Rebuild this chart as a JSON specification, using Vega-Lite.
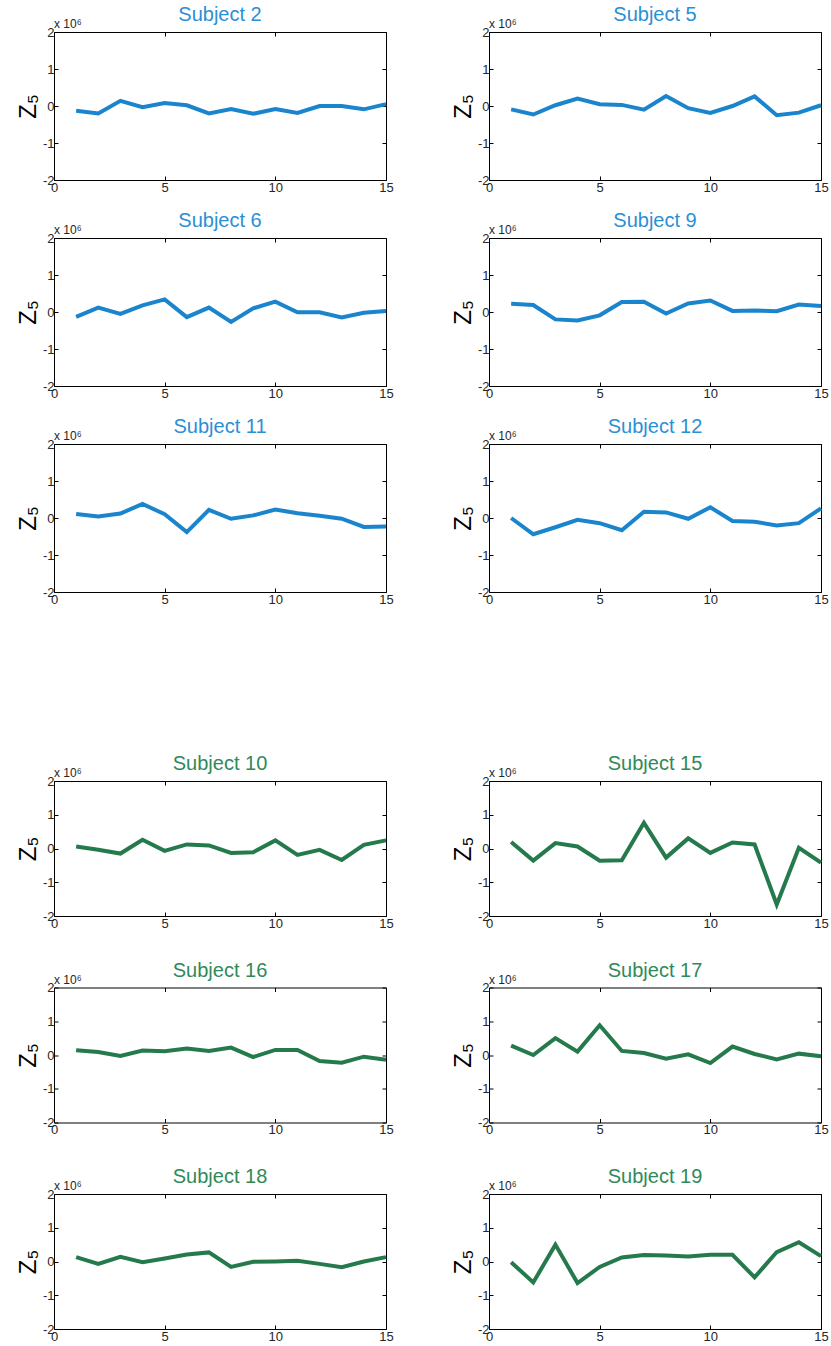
{
  "$schema": "https://vega.github.io/schema/vega-lite/v6.json",
  "padding": {"left": 15, "top": 4, "right": 5, "bottom": 0},
  "background": "white",
  "config": {
    "font": "Liberation Sans",
    "view": {"stroke": "#000000", "strokeWidth": 1},
    "axis": {"grid": false, "domain": false, "tickColor": "#000000", "tickSize": -4, "labelFontSize": 13, "labelColor": "#262626", "labelPadding": 4, "labelFont": "Liberation Sans", "labelFlush": false, "labelOverlap": false},
    "axisX": {"labelPadding": 5},
    "header": {"labelFontSize": 20, "labelFont": "Liberation Sans", "title": null},
    "concat": {"spacing": 146}
  },
  "datasets": {
    "z": [
      {"subject": "Subject 2", "g": "A", "x": 1, "z": -0.13}, {"subject": "Subject 2", "g": "A", "x": 2, "z": -0.2}, {"subject": "Subject 2", "g": "A", "x": 3, "z": 0.14}, {"subject": "Subject 2", "g": "A", "x": 4, "z": -0.03}, {"subject": "Subject 2", "g": "A", "x": 5, "z": 0.08}, {"subject": "Subject 2", "g": "A", "x": 6, "z": 0.02}, {"subject": "Subject 2", "g": "A", "x": 7, "z": -0.2}, {"subject": "Subject 2", "g": "A", "x": 8, "z": -0.08}, {"subject": "Subject 2", "g": "A", "x": 9, "z": -0.21}, {"subject": "Subject 2", "g": "A", "x": 10, "z": -0.08}, {"subject": "Subject 2", "g": "A", "x": 11, "z": -0.19}, {"subject": "Subject 2", "g": "A", "x": 12, "z": 0.0}, {"subject": "Subject 2", "g": "A", "x": 13, "z": 0.0}, {"subject": "Subject 2", "g": "A", "x": 14, "z": -0.09}, {"subject": "Subject 2", "g": "A", "x": 15, "z": 0.05},
      {"subject": "Subject 5", "g": "A", "x": 1, "z": -0.09}, {"subject": "Subject 5", "g": "A", "x": 2, "z": -0.23}, {"subject": "Subject 5", "g": "A", "x": 3, "z": 0.02}, {"subject": "Subject 5", "g": "A", "x": 4, "z": 0.2}, {"subject": "Subject 5", "g": "A", "x": 5, "z": 0.05}, {"subject": "Subject 5", "g": "A", "x": 6, "z": 0.03}, {"subject": "Subject 5", "g": "A", "x": 7, "z": -0.1}, {"subject": "Subject 5", "g": "A", "x": 8, "z": 0.27}, {"subject": "Subject 5", "g": "A", "x": 9, "z": -0.06}, {"subject": "Subject 5", "g": "A", "x": 10, "z": -0.19}, {"subject": "Subject 5", "g": "A", "x": 11, "z": 0.0}, {"subject": "Subject 5", "g": "A", "x": 12, "z": 0.26}, {"subject": "Subject 5", "g": "A", "x": 13, "z": -0.25}, {"subject": "Subject 5", "g": "A", "x": 14, "z": -0.18}, {"subject": "Subject 5", "g": "A", "x": 15, "z": 0.02},
      {"subject": "Subject 6", "g": "A", "x": 1, "z": -0.13}, {"subject": "Subject 6", "g": "A", "x": 2, "z": 0.12}, {"subject": "Subject 6", "g": "A", "x": 3, "z": -0.05}, {"subject": "Subject 6", "g": "A", "x": 4, "z": 0.18}, {"subject": "Subject 6", "g": "A", "x": 5, "z": 0.34}, {"subject": "Subject 6", "g": "A", "x": 6, "z": -0.14}, {"subject": "Subject 6", "g": "A", "x": 7, "z": 0.12}, {"subject": "Subject 6", "g": "A", "x": 8, "z": -0.27}, {"subject": "Subject 6", "g": "A", "x": 9, "z": 0.1}, {"subject": "Subject 6", "g": "A", "x": 10, "z": 0.28}, {"subject": "Subject 6", "g": "A", "x": 11, "z": -0.01}, {"subject": "Subject 6", "g": "A", "x": 12, "z": -0.01}, {"subject": "Subject 6", "g": "A", "x": 13, "z": -0.15}, {"subject": "Subject 6", "g": "A", "x": 14, "z": -0.02}, {"subject": "Subject 6", "g": "A", "x": 15, "z": 0.03},
      {"subject": "Subject 9", "g": "A", "x": 1, "z": 0.22}, {"subject": "Subject 9", "g": "A", "x": 2, "z": 0.19}, {"subject": "Subject 9", "g": "A", "x": 3, "z": -0.2}, {"subject": "Subject 9", "g": "A", "x": 4, "z": -0.23}, {"subject": "Subject 9", "g": "A", "x": 5, "z": -0.09}, {"subject": "Subject 9", "g": "A", "x": 6, "z": 0.27}, {"subject": "Subject 9", "g": "A", "x": 7, "z": 0.28}, {"subject": "Subject 9", "g": "A", "x": 8, "z": -0.04}, {"subject": "Subject 9", "g": "A", "x": 9, "z": 0.23}, {"subject": "Subject 9", "g": "A", "x": 10, "z": 0.31}, {"subject": "Subject 9", "g": "A", "x": 11, "z": 0.03}, {"subject": "Subject 9", "g": "A", "x": 12, "z": 0.04}, {"subject": "Subject 9", "g": "A", "x": 13, "z": 0.02}, {"subject": "Subject 9", "g": "A", "x": 14, "z": 0.2}, {"subject": "Subject 9", "g": "A", "x": 15, "z": 0.16},
      {"subject": "Subject 11", "g": "A", "x": 1, "z": 0.11}, {"subject": "Subject 11", "g": "A", "x": 2, "z": 0.04}, {"subject": "Subject 11", "g": "A", "x": 3, "z": 0.12}, {"subject": "Subject 11", "g": "A", "x": 4, "z": 0.38}, {"subject": "Subject 11", "g": "A", "x": 5, "z": 0.1}, {"subject": "Subject 11", "g": "A", "x": 6, "z": -0.38}, {"subject": "Subject 11", "g": "A", "x": 7, "z": 0.22}, {"subject": "Subject 11", "g": "A", "x": 8, "z": -0.02}, {"subject": "Subject 11", "g": "A", "x": 9, "z": 0.07}, {"subject": "Subject 11", "g": "A", "x": 10, "z": 0.23}, {"subject": "Subject 11", "g": "A", "x": 11, "z": 0.13}, {"subject": "Subject 11", "g": "A", "x": 12, "z": 0.06}, {"subject": "Subject 11", "g": "A", "x": 13, "z": -0.02}, {"subject": "Subject 11", "g": "A", "x": 14, "z": -0.24}, {"subject": "Subject 11", "g": "A", "x": 15, "z": -0.23},
      {"subject": "Subject 12", "g": "A", "x": 1, "z": 0.0}, {"subject": "Subject 12", "g": "A", "x": 2, "z": -0.44}, {"subject": "Subject 12", "g": "A", "x": 3, "z": -0.25}, {"subject": "Subject 12", "g": "A", "x": 4, "z": -0.05}, {"subject": "Subject 12", "g": "A", "x": 5, "z": -0.14}, {"subject": "Subject 12", "g": "A", "x": 6, "z": -0.33}, {"subject": "Subject 12", "g": "A", "x": 7, "z": 0.17}, {"subject": "Subject 12", "g": "A", "x": 8, "z": 0.15}, {"subject": "Subject 12", "g": "A", "x": 9, "z": -0.02}, {"subject": "Subject 12", "g": "A", "x": 10, "z": 0.29}, {"subject": "Subject 12", "g": "A", "x": 11, "z": -0.08}, {"subject": "Subject 12", "g": "A", "x": 12, "z": -0.1}, {"subject": "Subject 12", "g": "A", "x": 13, "z": -0.2}, {"subject": "Subject 12", "g": "A", "x": 14, "z": -0.14}, {"subject": "Subject 12", "g": "A", "x": 15, "z": 0.26},
      {"subject": "Subject 10", "g": "B", "x": 1, "z": 0.06}, {"subject": "Subject 10", "g": "B", "x": 2, "z": -0.04}, {"subject": "Subject 10", "g": "B", "x": 3, "z": -0.15}, {"subject": "Subject 10", "g": "B", "x": 4, "z": 0.26}, {"subject": "Subject 10", "g": "B", "x": 5, "z": -0.07}, {"subject": "Subject 10", "g": "B", "x": 6, "z": 0.12}, {"subject": "Subject 10", "g": "B", "x": 7, "z": 0.09}, {"subject": "Subject 10", "g": "B", "x": 8, "z": -0.13}, {"subject": "Subject 10", "g": "B", "x": 9, "z": -0.11}, {"subject": "Subject 10", "g": "B", "x": 10, "z": 0.24}, {"subject": "Subject 10", "g": "B", "x": 11, "z": -0.19}, {"subject": "Subject 10", "g": "B", "x": 12, "z": -0.04}, {"subject": "Subject 10", "g": "B", "x": 13, "z": -0.34}, {"subject": "Subject 10", "g": "B", "x": 14, "z": 0.11}, {"subject": "Subject 10", "g": "B", "x": 15, "z": 0.24},
      {"subject": "Subject 15", "g": "B", "x": 1, "z": 0.19}, {"subject": "Subject 15", "g": "B", "x": 2, "z": -0.36}, {"subject": "Subject 15", "g": "B", "x": 3, "z": 0.16}, {"subject": "Subject 15", "g": "B", "x": 4, "z": 0.06}, {"subject": "Subject 15", "g": "B", "x": 5, "z": -0.36}, {"subject": "Subject 15", "g": "B", "x": 6, "z": -0.35}, {"subject": "Subject 15", "g": "B", "x": 7, "z": 0.76}, {"subject": "Subject 15", "g": "B", "x": 8, "z": -0.27}, {"subject": "Subject 15", "g": "B", "x": 9, "z": 0.3}, {"subject": "Subject 15", "g": "B", "x": 10, "z": -0.13}, {"subject": "Subject 15", "g": "B", "x": 11, "z": 0.18}, {"subject": "Subject 15", "g": "B", "x": 12, "z": 0.12}, {"subject": "Subject 15", "g": "B", "x": 13, "z": -1.66}, {"subject": "Subject 15", "g": "B", "x": 14, "z": 0.02}, {"subject": "Subject 15", "g": "B", "x": 15, "z": -0.42},
      {"subject": "Subject 16", "g": "B", "x": 1, "z": 0.14}, {"subject": "Subject 16", "g": "B", "x": 2, "z": 0.09}, {"subject": "Subject 16", "g": "B", "x": 3, "z": -0.03}, {"subject": "Subject 16", "g": "B", "x": 4, "z": 0.13}, {"subject": "Subject 16", "g": "B", "x": 5, "z": 0.11}, {"subject": "Subject 16", "g": "B", "x": 6, "z": 0.19}, {"subject": "Subject 16", "g": "B", "x": 7, "z": 0.12}, {"subject": "Subject 16", "g": "B", "x": 8, "z": 0.22}, {"subject": "Subject 16", "g": "B", "x": 9, "z": -0.06}, {"subject": "Subject 16", "g": "B", "x": 10, "z": 0.15}, {"subject": "Subject 16", "g": "B", "x": 11, "z": 0.15}, {"subject": "Subject 16", "g": "B", "x": 12, "z": -0.18}, {"subject": "Subject 16", "g": "B", "x": 13, "z": -0.23}, {"subject": "Subject 16", "g": "B", "x": 14, "z": -0.05}, {"subject": "Subject 16", "g": "B", "x": 15, "z": -0.14},
      {"subject": "Subject 17", "g": "B", "x": 1, "z": 0.28}, {"subject": "Subject 17", "g": "B", "x": 2, "z": 0.0}, {"subject": "Subject 17", "g": "B", "x": 3, "z": 0.5}, {"subject": "Subject 17", "g": "B", "x": 4, "z": 0.1}, {"subject": "Subject 17", "g": "B", "x": 5, "z": 0.88}, {"subject": "Subject 17", "g": "B", "x": 6, "z": 0.12}, {"subject": "Subject 17", "g": "B", "x": 7, "z": 0.06}, {"subject": "Subject 17", "g": "B", "x": 8, "z": -0.11}, {"subject": "Subject 17", "g": "B", "x": 9, "z": 0.02}, {"subject": "Subject 17", "g": "B", "x": 10, "z": -0.24}, {"subject": "Subject 17", "g": "B", "x": 11, "z": 0.25}, {"subject": "Subject 17", "g": "B", "x": 12, "z": 0.03}, {"subject": "Subject 17", "g": "B", "x": 13, "z": -0.13}, {"subject": "Subject 17", "g": "B", "x": 14, "z": 0.04}, {"subject": "Subject 17", "g": "B", "x": 15, "z": -0.04},
      {"subject": "Subject 18", "g": "B", "x": 1, "z": 0.13}, {"subject": "Subject 18", "g": "B", "x": 2, "z": -0.07}, {"subject": "Subject 18", "g": "B", "x": 3, "z": 0.14}, {"subject": "Subject 18", "g": "B", "x": 4, "z": -0.02}, {"subject": "Subject 18", "g": "B", "x": 5, "z": 0.09}, {"subject": "Subject 18", "g": "B", "x": 6, "z": 0.21}, {"subject": "Subject 18", "g": "B", "x": 7, "z": 0.27}, {"subject": "Subject 18", "g": "B", "x": 8, "z": -0.16}, {"subject": "Subject 18", "g": "B", "x": 9, "z": -0.01}, {"subject": "Subject 18", "g": "B", "x": 10, "z": 0.0}, {"subject": "Subject 18", "g": "B", "x": 11, "z": 0.02}, {"subject": "Subject 18", "g": "B", "x": 12, "z": -0.07}, {"subject": "Subject 18", "g": "B", "x": 13, "z": -0.17}, {"subject": "Subject 18", "g": "B", "x": 14, "z": 0.0}, {"subject": "Subject 18", "g": "B", "x": 15, "z": 0.13},
      {"subject": "Subject 19", "g": "B", "x": 1, "z": -0.02}, {"subject": "Subject 19", "g": "B", "x": 2, "z": -0.62}, {"subject": "Subject 19", "g": "B", "x": 3, "z": 0.5}, {"subject": "Subject 19", "g": "B", "x": 4, "z": -0.64}, {"subject": "Subject 19", "g": "B", "x": 5, "z": -0.16}, {"subject": "Subject 19", "g": "B", "x": 6, "z": 0.12}, {"subject": "Subject 19", "g": "B", "x": 7, "z": 0.19}, {"subject": "Subject 19", "g": "B", "x": 8, "z": 0.18}, {"subject": "Subject 19", "g": "B", "x": 9, "z": 0.15}, {"subject": "Subject 19", "g": "B", "x": 10, "z": 0.2}, {"subject": "Subject 19", "g": "B", "x": 11, "z": 0.2}, {"subject": "Subject 19", "g": "B", "x": 12, "z": -0.47}, {"subject": "Subject 19", "g": "B", "x": 13, "z": 0.28}, {"subject": "Subject 19", "g": "B", "x": 14, "z": 0.57}, {"subject": "Subject 19", "g": "B", "x": 15, "z": 0.16}
    ]
  },
  "vconcat": [
    {
      "data": {"name": "z"},
      "transform": [{"filter": "datum.g == 'A'"}],
      "facet": {"field": "subject", "type": "nominal", "sort": ["Subject 2", "Subject 5", "Subject 6", "Subject 9", "Subject 11", "Subject 12"], "header": {"title": null, "labelColor": "#2b8fd6", "labelPadding": -7}},
      "columns": 2,
      "spacing": {"row": 15, "column": 55},
      "resolve": {"axis": {"x": "independent", "y": "independent"}},
      "spec": {
        "width": 332,
        "height": 148,
        "resolve": {"axis": {"x": "independent", "y": "independent"}},
        "layer": [
          {
            "mark": {"type": "line", "color": "#1a85cc", "strokeWidth": 4},
            "encoding": {
              "x": {"field": "x", "type": "quantitative", "scale": {"domain": [0, 15], "nice": false}, "axis": {"values": [0, 5, 10, 15], "title": null}},
              "y": {"field": "z", "type": "quantitative", "scale": {"domain": [-2, 2], "nice": false}, "axis": {"values": [-2, -1, 0, 1, 2], "labelExpr": "datum.value < 0 ? '-' + abs(datum.value) : '' + datum.value", "title": "Z₅", "titleFontSize": 24, "titleFontWeight": "normal", "titleColor": "#000000", "titlePadding": 2}}
            }
          },
          {
            "transform": [{"filter": "datum.x == 1"}],
            "mark": {"type": "text", "text": "x 10⁶", "align": "left", "baseline": "bottom", "dy": -1, "fontSize": 12, "fill": "#262626"},
            "encoding": {
              "x": {"datum": 0, "type": "quantitative", "axis": {"orient": "top", "labels": false, "title": null, "values": [0, 5, 10, 15]}},
              "y": {"datum": 2, "type": "quantitative", "axis": {"orient": "right", "labels": false, "title": null, "values": [-2, -1, 0, 1, 2]}}
            }
          }
        ]
      }
    },
    {
      "data": {"name": "z"},
      "transform": [{"filter": "datum.g == 'B'"}],
      "facet": {"field": "subject", "type": "nominal", "sort": ["Subject 10", "Subject 15", "Subject 16", "Subject 17", "Subject 18", "Subject 19"], "header": {"title": null, "labelColor": "#2f8a5a", "labelPadding": -7}},
      "columns": 2,
      "spacing": {"row": 28.5, "column": 55},
      "resolve": {"axis": {"x": "independent", "y": "independent"}},
      "spec": {
        "width": 332,
        "height": 135,
        "resolve": {"axis": {"x": "independent", "y": "independent"}},
        "layer": [
          {
            "mark": {"type": "line", "color": "#257a4c", "strokeWidth": 4},
            "encoding": {
              "x": {"field": "x", "type": "quantitative", "scale": {"domain": [0, 15], "nice": false}, "axis": {"values": [0, 5, 10, 15], "title": null}},
              "y": {"field": "z", "type": "quantitative", "scale": {"domain": [-2, 2], "nice": false}, "axis": {"values": [-2, -1, 0, 1, 2], "labelExpr": "datum.value < 0 ? '-' + abs(datum.value) : '' + datum.value", "title": "Z₅", "titleFontSize": 24, "titleFontWeight": "normal", "titleColor": "#000000", "titlePadding": 2}}
            }
          },
          {
            "transform": [{"filter": "datum.x == 1"}],
            "mark": {"type": "text", "text": "x 10⁶", "align": "left", "baseline": "bottom", "dy": -1, "fontSize": 12, "fill": "#262626"},
            "encoding": {
              "x": {"datum": 0, "type": "quantitative", "axis": {"orient": "top", "labels": false, "title": null, "values": [0, 5, 10, 15]}},
              "y": {"datum": 2, "type": "quantitative", "axis": {"orient": "right", "labels": false, "title": null, "values": [-2, -1, 0, 1, 2]}}
            }
          }
        ]
      }
    }
  ]
}
